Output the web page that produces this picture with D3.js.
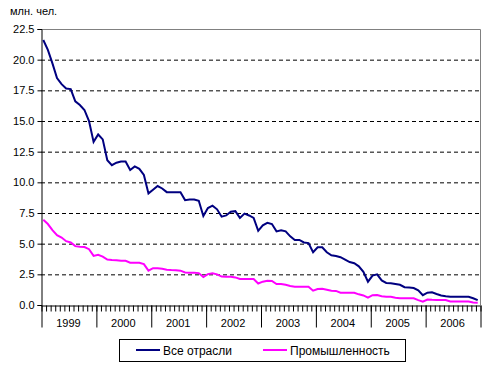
<!DOCTYPE html>
<html>
<head>
<meta charset="utf-8">
<script src="https://cdn.jsdelivr.net/npm/d3@7"></script>
<style>
  body { margin: 0; background: #fff; }
  svg { display: block; font-family: "Liberation Sans", Arial, sans-serif; }
</style>
</head>
<body>
<div id="chart"></div>
<script>
// Monthly data, Jan 1999 - Dec 2006 (млн. чел.)
const years = [1999, 2000, 2001, 2002, 2003, 2004, 2005, 2006];
const allSectors = [
  21.6, 20.8, 19.7, 18.5, 18.0, 17.65, 17.6, 16.6, 16.3, 15.9, 15.0, 13.3,
  13.9, 13.5, 11.8, 11.4, 11.6, 11.7, 11.7, 11.0, 11.3, 11.1, 10.6, 9.1,
  9.4, 9.7, 9.5, 9.2, 9.2, 9.2, 9.2, 8.55, 8.6, 8.6, 8.5, 7.25,
  7.9, 8.1, 7.8, 7.2, 7.3, 7.6, 7.65, 7.1, 7.45, 7.3, 7.1, 6.05,
  6.5, 6.7, 6.6, 6.0, 6.1, 6.0, 5.6, 5.3, 5.3, 5.1, 5.05, 4.3,
  4.7, 4.7, 4.3, 4.05, 4.0, 3.9, 3.7, 3.5, 3.4, 3.15, 2.7, 1.9,
  2.4, 2.5, 2.0, 1.8, 1.78, 1.72, 1.65, 1.45, 1.42, 1.38, 1.2, 0.8,
  1.0, 1.03, 0.9, 0.78, 0.72, 0.68, 0.68, 0.68, 0.68, 0.67, 0.55, 0.4
];
const industry = [
  6.95, 6.6, 6.1, 5.7, 5.5, 5.2, 5.1, 4.8, 4.75, 4.72, 4.55, 4.0,
  4.1, 3.95, 3.7, 3.67, 3.65, 3.6, 3.6, 3.45, 3.45, 3.44, 3.33, 2.8,
  3.0, 3.0, 2.95, 2.88, 2.85, 2.84, 2.8, 2.65, 2.63, 2.63, 2.6, 2.28,
  2.52, 2.58, 2.5, 2.32, 2.31, 2.31, 2.25, 2.12, 2.12, 2.12, 2.12, 1.75,
  1.9, 1.98, 1.96, 1.71, 1.71, 1.65, 1.55, 1.49, 1.49, 1.49, 1.49, 1.17,
  1.3, 1.33, 1.25, 1.17, 1.15, 1.0, 1.0, 1.0, 1.0, 0.87, 0.78, 0.6,
  0.8, 0.82, 0.72, 0.68, 0.68, 0.6, 0.56, 0.55, 0.55, 0.55, 0.4, 0.27,
  0.45, 0.42, 0.41, 0.41, 0.41, 0.28, 0.28, 0.28, 0.28, 0.28, 0.2, 0.18
];
const yTicks = [0, 2.5, 5, 7.5, 10, 12.5, 15, 17.5, 20, 22.5];
const seriesNames = ["Все отрасли", "Промышленность"];
const seriesColors = ["#000080", "#ff00ff"];

const width = 493, height = 370;
const margin = {left: 41, right: 13, top: 29, bottom: 65};

const svg = d3.select("#chart")
              .append("svg")
              .attr("width", width)
              .attr("height", height);

const x = d3.scaleLinear()
            .domain([0, years.length * 12])
            .range([margin.left, width - margin.right]);
const y = d3.scaleLinear()
            .domain([0, 22.5])
            .range([height - margin.bottom, margin.top]);

// unit label
svg.append("text")
   .attr("x", 10).attr("y", 15)
   .attr("font-size", 11)
   .text("млн. чел.");

// dashed gridlines
svg.append("g")
   .selectAll("line")
   .data(yTicks.filter(d => d > 0 && d < 22.5))
   .join("line")
   .attr("x1", x.range()[0]).attr("x2", x.range()[1])
   .attr("y1", d => y(d) + 0.5).attr("y2", d => y(d) + 0.5)
   .attr("stroke", "#000")
   .attr("stroke-dasharray", "4,3");

// plot frame top and right (gray)
svg.append("path")
   .attr("d", `M${x.range()[0]},${y(22.5) + 0.5}H${x.range()[1] + 0.5}V${y(0)}`)
   .attr("fill", "none")
   .attr("stroke", "#808080");

// y axis
const yAxis = svg.append("g")
   .attr("transform", `translate(${margin.left + 0.5},0)`)
   .call(d3.axisLeft(y).tickValues(yTicks).tickFormat(d3.format(".1f")).tickSize(4).tickPadding(3));
yAxis.select(".domain").attr("stroke", "#000");
yAxis.selectAll("text").attr("font-size", 11).attr("font-family", null).attr("fill", "#000");

// x axis: monthly minor ticks
const base = y(0) + 0.5;
const xMinor = svg.append("g")
   .attr("transform", `translate(0,${base})`)
   .call(d3.axisBottom(x).tickValues(d3.range(0, years.length * 12 + 1)).tickFormat("").tickSize(6).tickSizeOuter(0));
xMinor.selectAll(".tick line").attr("transform", "translate(0.5,0)");

// year separators
svg.append("g")
   .attr("transform", `translate(0,${base})`)
   .call(d3.axisBottom(x).tickValues(d3.range(0, years.length + 1).map(i => i * 12)).tickFormat("").tickSize(22).tickSizeOuter(0))
   .call(g => g.select(".domain").remove())
   .selectAll(".tick line").attr("transform", "translate(0.5,0)");

// year labels
svg.append("g")
   .selectAll("text")
   .data(years)
   .join("text")
   .attr("x", (d, i) => x(i * 12 + 6))
   .attr("y", base + 21)
   .attr("text-anchor", "middle")
   .attr("font-size", 11)
   .text(d => d);

// lines
const line = d3.line()
               .x((d, i) => x(i + 0.5))
               .y(d => y(d));

[allSectors, industry].forEach((s, k) => {
  svg.append("path")
     .datum(s)
     .attr("fill", "none")
     .attr("stroke", seriesColors[k])
     .attr("stroke-width", 2)
     .attr("d", line);
});

// legend
const legend = svg.append("g");
legend.append("rect")
      .attr("x", 119.5).attr("y", 339.5)
      .attr("width", 286).attr("height", 22)
      .attr("fill", "#fff").attr("stroke", "#000");
const legendX = [136, 263];
seriesNames.forEach((name, k) => {
  legend.append("line")
        .attr("x1", legendX[k]).attr("x2", legendX[k] + 24)
        .attr("y1", 350).attr("y2", 350)
        .attr("stroke", seriesColors[k]).attr("stroke-width", 2);
  legend.append("text")
        .attr("x", legendX[k] + 27).attr("y", 355)
        .attr("font-size", 12)
        .text(name);
});
</script>
</body>
</html>
